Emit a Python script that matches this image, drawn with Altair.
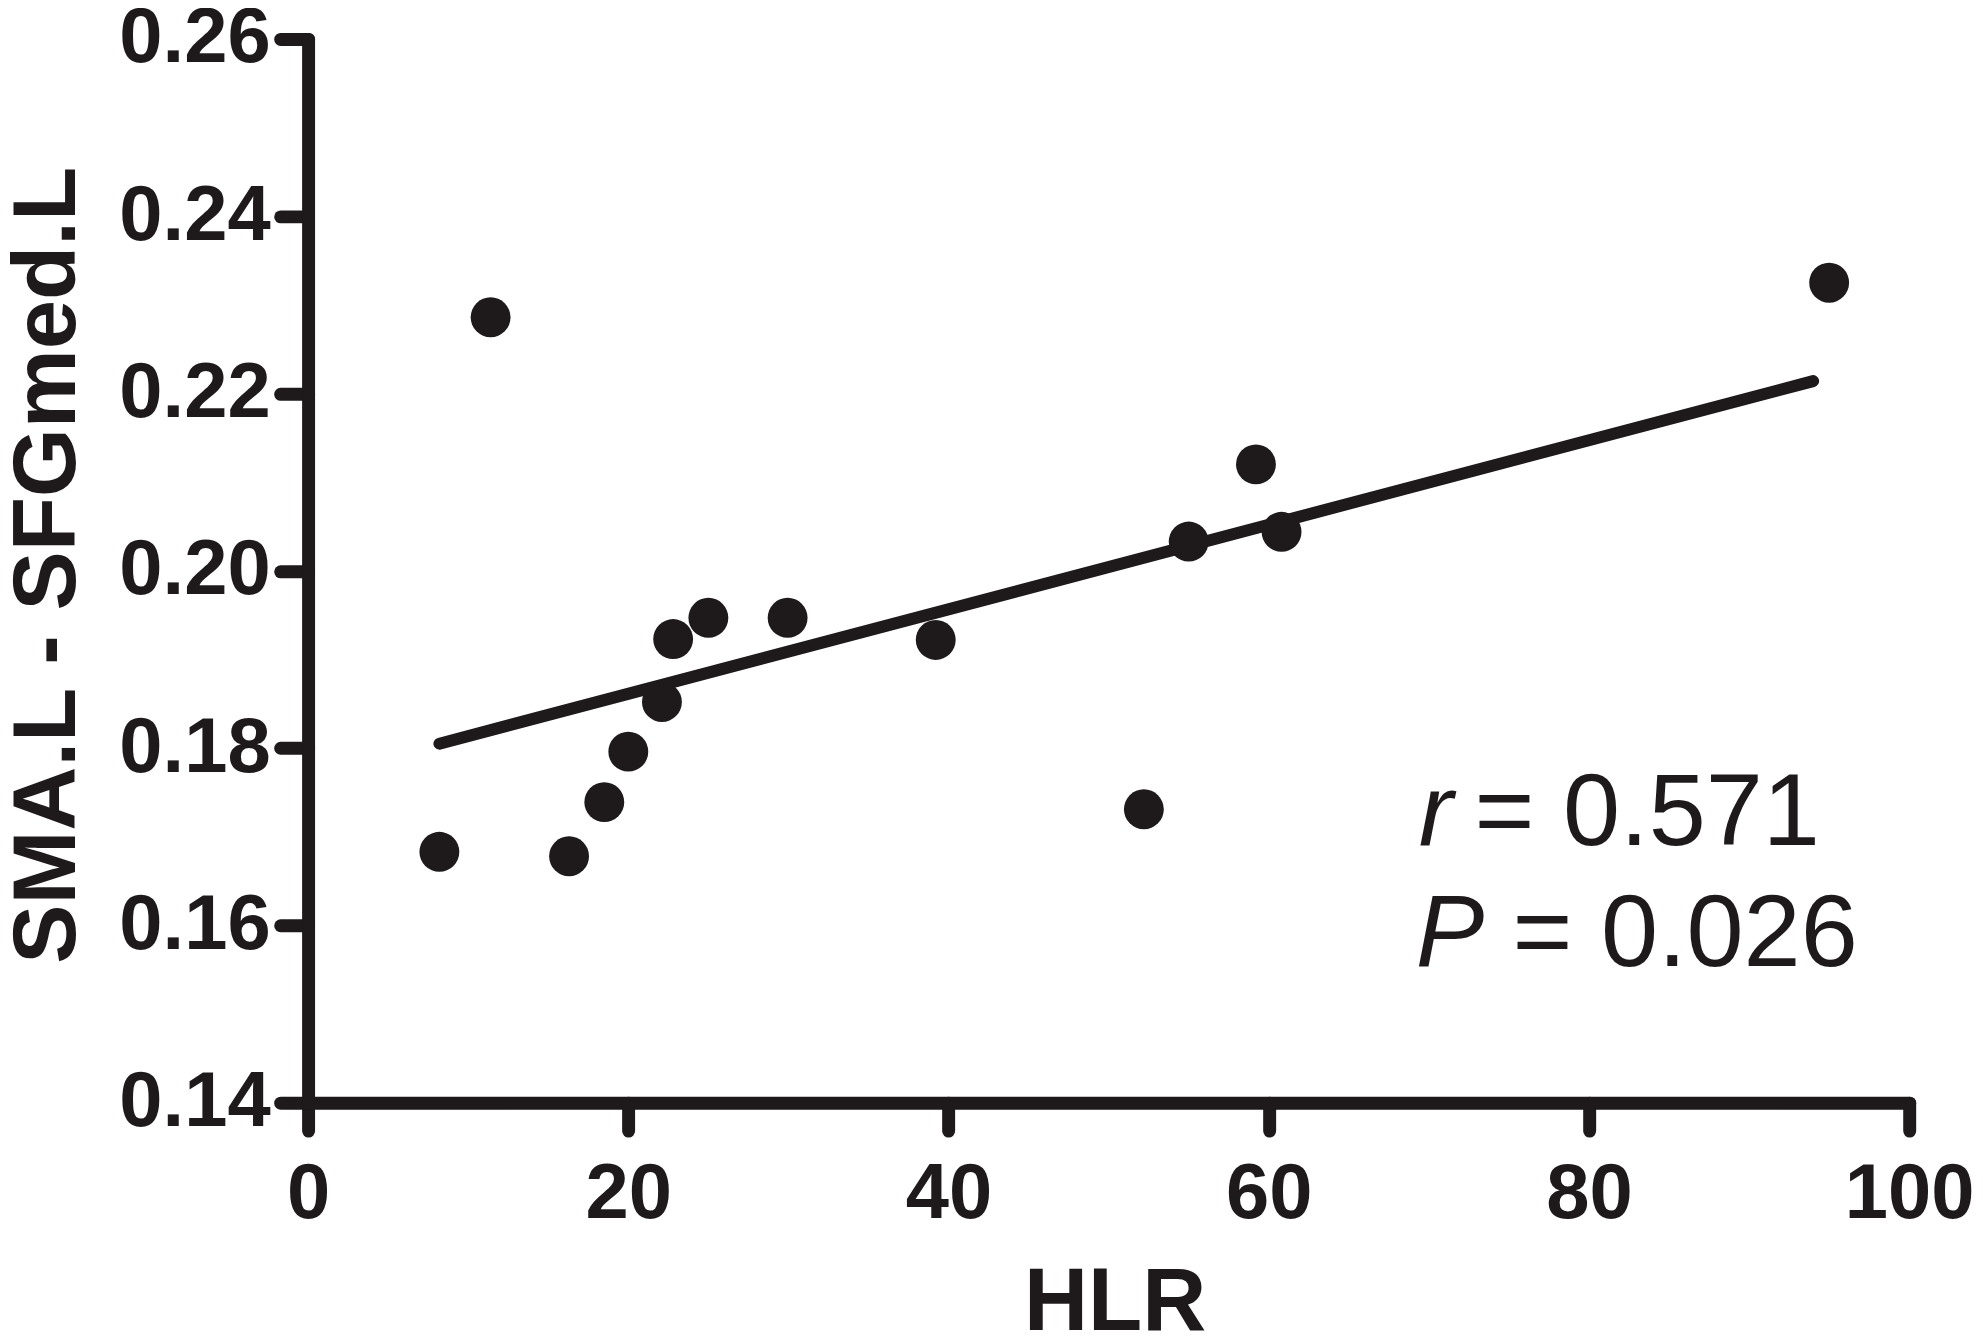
import altair as alt
import pandas as pd

# Data
hlr = [8.2, 11.4, 16.3, 18.5, 20.0, 22.1, 22.8, 25.0, 29.95, 39.2, 52.2, 55.0, 59.2, 60.8, 95.0]
sma = [0.1683, 0.2286, 0.1678, 0.1739, 0.1796, 0.1852, 0.1923, 0.1947, 0.1947,
       0.1922, 0.1731, 0.2033, 0.2120, 0.2044, 0.2325]

# regression line endpoints as drawn in the reference
fit_x = [8.2, 94.0]
fit_y = [0.1805, 0.2214]

x_ticks = [0, 20, 40, 60, 80, 100]
y_ticks = [0.14, 0.16, 0.18, 0.20, 0.22, 0.24, 0.26]

stat_sym = ["r", "P"]
stat_val = ["= 0.571", "= 0.026"]

INK = "#1e1a1b"
FONT = "Liberation Sans"

W, H = 1606, 1067

pts = pd.DataFrame({"HLR": hlr, "SMA": sma})
fit = pd.DataFrame({"HLR": fit_x, "SMA": fit_y})

xscale = alt.Scale(domain=[0, 100], nice=False, zero=False)
yscale = alt.Scale(domain=[0.14, 0.26], nice=False, zero=False)

axis_common = dict(
    grid=False,
    domainColor=INK, domainWidth=13, domainCap="round",
    tickColor=INK, tickWidth=13, tickSize=28, tickCap="round",
    labelColor=INK, labelFont=FONT, labelFontWeight="bold", labelFontSize=78,
    titleColor=INK, titleFont=FONT, titleFontWeight="bold", titleFontSize=89,
    labelOverlap=False, labelFlush=False,
)

xaxis = alt.Axis(values=x_ticks, format="d", labelPadding=25,
                 titleX=W / 2 + 6, titleY=228, titleBaseline="alphabetic", titleAlign="center",
                 **axis_common)
yaxis = alt.Axis(values=y_ticks, format=".2f", labelPadding=10,
                 titleX=-234, titleY=H / 2 - 6, titleAngle=270, titleBaseline="alphabetic",
                 titleAlign="center", **axis_common)

points = alt.Chart(pts).mark_circle(size=1600, opacity=1, color=INK).encode(
    x=alt.X("HLR:Q", scale=xscale, axis=xaxis, title="HLR"),
    y=alt.Y("SMA:Q", scale=yscale, axis=yaxis, title="SMA.L - SFGmed.L"),
)

line = alt.Chart(fit).mark_line(color=INK, strokeWidth=12, strokeCap="round").encode(
    x=alt.X("HLR:Q", scale=xscale),
    y=alt.Y("SMA:Q", scale=yscale),
)

def label(txt, x, y, italic):
    return alt.Chart(pd.DataFrame({"t": [txt]})).mark_text(
        font=FONT, fontSize=103, fontStyle="italic" if italic else "normal",
        color=INK, align="left", baseline="alphabetic",
    ).encode(text="t:N", x=alt.value(x), y=alt.value(y))

texts = [
    label(stat_sym[0], 1114, 809, True),
    label(stat_val[0], 1170, 809, False),
    label(stat_sym[1], 1111, 930, True),
    label(stat_val[1], 1208, 930, False),
]

chart = alt.layer(line, points, *texts).properties(
    width=W, height=H,
    autosize=alt.AutoSizeParams(type="none"),
    padding={"left": 301, "top": 29, "right": 66, "bottom": 229},
    background="white",
).configure_view(stroke=None)

chart.save("out.html", embed_options={"renderer": "svg", "actions": False})
